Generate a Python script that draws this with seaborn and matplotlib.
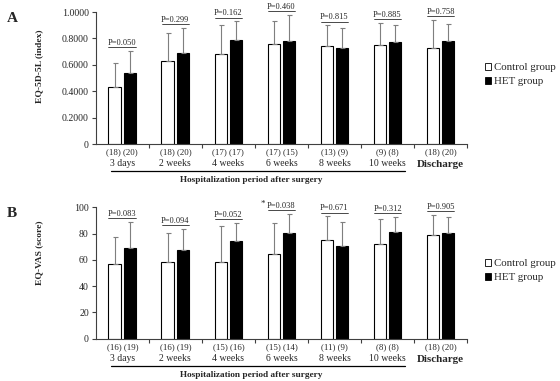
import matplotlib
matplotlib.use("Agg")
import matplotlib.pyplot as plt
import numpy as np
import pandas as pd
import seaborn as sns
from matplotlib.patches import Patch
from matplotlib.transforms import blended_transform_factory, offset_copy

TIMEPOINTS = ["3 days", "2 weeks", "4 weeks", "6 weeks", "8 weeks", "10 weeks", "Discharge"]
GROUPS = ["Control group", "HET group"]

# Panel A: EQ-5D-5L index
eq5d_ctrl = [0.43, 0.63, 0.68, 0.76, 0.74, 0.75, 0.73]
eq5d_ctrl_sd = [0.18, 0.21, 0.22, 0.17, 0.16, 0.17, 0.21]
eq5d_het = [0.54, 0.69, 0.79, 0.78, 0.73, 0.77, 0.78]
eq5d_het_sd = [0.165, 0.19, 0.14, 0.20, 0.15, 0.13, 0.13]
eq5d_n_ctrl = [18, 18, 17, 17, 13, 9, 18]
eq5d_n_het = [20, 20, 17, 15, 9, 8, 20]
eq5d_p = ["0.050", "0.299", "0.162", "0.460", "0.815", "0.885", "0.758"]
eq5d_sig = [False] * 7

# Panel B: EQ-VAS score
vas_ctrl = [56.7, 58.2, 58.2, 64.8, 74.9, 71.9, 79.0]
vas_ctrl_sd = [20.8, 22.6, 27.9, 23.6, 18.3, 19.2, 15.2]
vas_het = [69.1, 67.8, 74.7, 80.3, 70.9, 81.0, 80.3]
vas_het_sd = [19.8, 15.7, 13.7, 14.9, 17.7, 11.7, 12.6]
vas_n_ctrl = [16, 16, 15, 15, 11, 8, 18]
vas_n_het = [19, 19, 16, 14, 9, 8, 20]
vas_p = ["0.083", "0.094", "0.052", "0.038", "0.671", "0.312", "0.905"]
vas_sig = [False, False, False, True, False, False, False]

sns.set_style("ticks")
plt.rcParams["font.family"] = ["Liberation Serif", "DejaVu Serif"]
plt.rcParams["axes.linewidth"] = 0.8

fig = plt.figure(figsize=(5.6, 3.81), dpi=100)


def draw_panel(ax, ctrl, ctrl_sd, het, het_sd, n_ctrl, n_het, pvals, sig, ylim, yticks, yticklabels):
    df = pd.DataFrame({
        "time": TIMEPOINTS * 2,
        "group": [GROUPS[0]] * 7 + [GROUPS[1]] * 7,
        "value": ctrl + het,
        "sd": ctrl_sd + het_sd,
    })
    sns.barplot(data=df, x="time", y="value", hue="group", order=TIMEPOINTS,
                hue_order=GROUPS, palette={GROUPS[0]: "white", GROUPS[1]: "black"},
                edgecolor="black", linewidth=0.8, width=0.58, gap=0.2,
                errorbar=None, legend=False, ax=ax)

    # one-sided SD bars (upward only)
    xs = [p.get_x() + p.get_width() / 2 for p in ax.patches]
    ys = df["value"].to_numpy()
    sd = df["sd"].to_numpy()
    ax.errorbar(xs, ys, yerr=[np.zeros_like(sd), sd], fmt="none", ecolor="#7f7f7f",
                elinewidth=0.8, capsize=1.8, capthick=0.8, zorder=1)

    # p-values above each pair, underlined
    upper = np.maximum(np.array(ctrl) + np.array(ctrl_sd), np.array(het) + np.array(het_sd))
    txt_tr = offset_copy(ax.transData, fig=fig, x=0, y=8, units="dots")
    line_tr = offset_copy(ax.transData, fig=fig, x=0, y=3.5, units="dots")
    for i, (p, top) in enumerate(zip(pvals, upper)):
        ax.text(i, top, f"P={p}", transform=txt_tr, ha="center", va="center",
                fontsize=6, clip_on=False)
        ax.plot([i - 0.26, i + 0.26], [top, top], transform=line_tr, color="black",
                lw=0.5, clip_on=False)
        if sig[i]:
            star_tr = offset_copy(ax.transData, fig=fig, x=-19, y=10, units="dots")
            ax.text(i, top, "*", transform=star_tr, ha="center", va="center",
                    fontsize=6.5, clip_on=False)

    ax.set_xlim(-0.5, 6.5)
    ax.set_ylim(*ylim)
    ax.set_yticks(yticks)
    ax.set_yticklabels(yticklabels)
    ax.set_xticks(range(7))
    ax.set_xticklabels([])
    ax.set_xticks(np.arange(0.5, 7, 1), minor=True)
    ax.tick_params(axis="x", which="major", length=0)
    ax.tick_params(axis="x", which="minor", length=3, width=0.8, direction="out", color="#404040")
    ax.tick_params(axis="y", length=3, width=0.8, direction="out", labelsize=7.1,
                   color="#404040", pad=2)
    ax.set_xlabel("")
    ax.set_ylabel("")
    sns.despine(ax=ax)
    for s in ("left", "bottom"):
        ax.spines[s].set_color("#404040")

    tr = blended_transform_factory(ax.transData, ax.transAxes)
    for i, (a, b) in enumerate(zip(n_ctrl, n_het)):
        ax.text(i, -0.063, f"({a}) ({b})", transform=tr, ha="center", va="center", fontsize=6.4)
        if TIMEPOINTS[i] == "Discharge":
            ax.text(i, -0.155, TIMEPOINTS[i], transform=tr, ha="center", va="center",
                    fontsize=7.9, fontweight="bold")
        else:
            ax.text(i, -0.147, TIMEPOINTS[i], transform=tr, ha="center", va="center", fontsize=7)
    ax.plot([-0.217, 5.33], [-0.206, -0.206], transform=tr, color="black", lw=0.9, clip_on=False)
    ax.text(2.43, -0.274, "Hospitalization period after surgery", transform=tr,
            ha="center", va="center", fontsize=6.7, fontweight="bold")


axA = fig.add_axes([0.171, 0.622, 0.663, 0.3465])
draw_panel(axA, eq5d_ctrl, eq5d_ctrl_sd, eq5d_het, eq5d_het_sd, eq5d_n_ctrl, eq5d_n_het,
           eq5d_p, eq5d_sig, (0, 1.0), [0, 0.2, 0.4, 0.6, 0.8, 1.0],
           ["0", "0.2000", "0.4000", "0.6000", "0.8000", "1.0000"])

axB = fig.add_axes([0.171, 0.111, 0.663, 0.345])
draw_panel(axB, vas_ctrl, vas_ctrl_sd, vas_het, vas_het_sd, vas_n_ctrl, vas_n_het,
           vas_p, vas_sig, (0, 100), [0, 20, 40, 60, 80, 100],
           ["0", "20", "40", "60", "80", "100"])

fig.text(0.012, 0.951, "A", fontsize=11, fontweight="bold", va="center", ha="left")
fig.text(0.012, 0.44, "B", fontsize=11, fontweight="bold", va="center", ha="left")
fig.text(0.07, 1 - 66.5 / 381, "EQ-5D-5L (index)", rotation=90, fontsize=6.8,
         fontweight="bold", va="center", ha="center")
fig.text(0.07, 1 - 253 / 381, "EQ-VAS (score)", rotation=90, fontsize=6.8,
         fontweight="bold", va="center", ha="center")

handles = [Patch(facecolor="white", edgecolor="black", linewidth=0.6),
           Patch(facecolor="black", edgecolor="black", linewidth=0.6)]
for y in (0.834, 0.32):
    fig.legend(handles, GROUPS, loc="upper left", bbox_to_anchor=(0.866, y), frameon=False,
               handlelength=0.55, handleheight=0.55, handletextpad=0.25, labelspacing=0.45,
               fontsize=7.8, borderaxespad=0, borderpad=0)

fig.savefig("out.png", dpi=100)
